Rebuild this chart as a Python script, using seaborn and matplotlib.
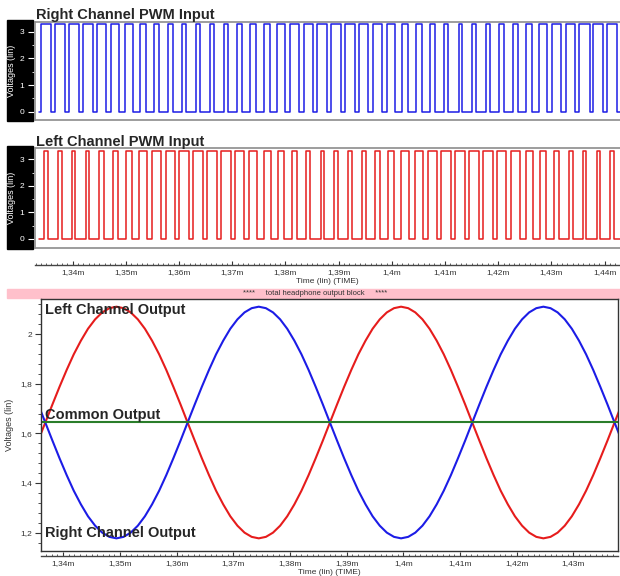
import matplotlib

matplotlib.use("Agg")
import matplotlib.pyplot as plt
import numpy as np
import seaborn as sns
from matplotlib.patches import Rectangle
from matplotlib.ticker import AutoMinorLocator, FuncFormatter, MultipleLocator

W, H = 620, 576

# PWM inputs: centre of each carrier period (ms) and duty cycle read per period
pwm_centres = [
    1.33501, 1.33760, 1.34020, 1.34279, 1.34539, 1.34798, 1.35058, 1.35317,
    1.35577, 1.35836, 1.36096, 1.36355, 1.36615, 1.36874, 1.37134, 1.37393,
    1.37653, 1.37912, 1.38172, 1.38431, 1.38691, 1.38950, 1.39210, 1.39469,
    1.39729, 1.39988, 1.40248, 1.40507, 1.40767, 1.41026, 1.41286, 1.41545,
    1.41805, 1.42064, 1.42324, 1.42583, 1.42843, 1.43102, 1.43362, 1.43621,
    1.43881, 1.44140,
]
right_duty = [
    0.73, 0.76, 0.76, 0.73, 0.68, 0.62, 0.54, 0.45, 0.37, 0.31, 0.26, 0.24,
    0.25, 0.28, 0.34, 0.41, 0.49, 0.58, 0.65, 0.71, 0.75, 0.76, 0.75, 0.70,
    0.64, 0.57, 0.48, 0.40, 0.33, 0.28, 0.24, 0.24, 0.27, 0.32, 0.39, 0.47,
    0.56, 0.64, 0.70, 0.75, 0.76, 0.74,
]
left_duty = [
    0.27, 0.24, 0.24, 0.27, 0.32, 0.38, 0.46, 0.55, 0.63, 0.69, 0.74, 0.76,
    0.75, 0.72, 0.66, 0.59, 0.51, 0.42, 0.35, 0.29, 0.25, 0.24, 0.25, 0.30,
    0.36, 0.43, 0.52, 0.60, 0.67, 0.72, 0.76, 0.76, 0.73, 0.68, 0.61, 0.53,
    0.44, 0.36, 0.30, 0.25, 0.24, 0.26,
]
pwm_high = 3.3
pwm_start = 1.3336

# headphone outputs (ms, V)
out_t = [
    1.33560, 1.33685, 1.33811, 1.33936, 1.34062, 1.34187, 1.34313, 1.34438,
    1.34564, 1.34689, 1.34815, 1.34940, 1.35066, 1.35191, 1.35317, 1.35442,
    1.35568, 1.35693, 1.35819, 1.35944, 1.36070, 1.36195, 1.36321, 1.36446,
    1.36572, 1.36697, 1.36823, 1.36948, 1.37074, 1.37199, 1.37325, 1.37450,
    1.37576, 1.37701, 1.37827, 1.37952, 1.38078, 1.38203, 1.38329, 1.38454,
    1.38580, 1.38705, 1.38831, 1.38956, 1.39082, 1.39207, 1.39333, 1.39458,
    1.39584, 1.39709, 1.39835, 1.39960, 1.40086, 1.40211, 1.40337, 1.40462,
    1.40588, 1.40713, 1.40839, 1.40964, 1.41090, 1.41215, 1.41341, 1.41466,
    1.41592, 1.41717, 1.41843, 1.41968, 1.42094, 1.42219, 1.42345, 1.42470,
    1.42596, 1.42721, 1.42847, 1.42972, 1.43098, 1.43223, 1.43349, 1.43474,
    1.43600, 1.43725, 1.43851,
]
left_out = [
    1.571, 1.644, 1.717, 1.788, 1.856, 1.919, 1.974, 2.022, 2.060, 2.088,
    2.105, 2.111, 2.105, 2.088, 2.060, 2.022, 1.974, 1.919, 1.856, 1.788,
    1.717, 1.644, 1.571, 1.500, 1.432, 1.369, 1.314, 1.266, 1.228, 1.200,
    1.183, 1.177, 1.183, 1.200, 1.228, 1.266, 1.314, 1.369, 1.432, 1.500,
    1.571, 1.644, 1.717, 1.788, 1.856, 1.919, 1.974, 2.022, 2.060, 2.088,
    2.105, 2.111, 2.105, 2.088, 2.060, 2.022, 1.974, 1.919, 1.856, 1.788,
    1.717, 1.644, 1.571, 1.500, 1.432, 1.369, 1.314, 1.266, 1.228, 1.200,
    1.183, 1.177, 1.183, 1.200, 1.228, 1.266, 1.314, 1.369, 1.432, 1.500,
    1.571, 1.644, 1.717,
]
right_out = [
    1.717, 1.644, 1.571, 1.500, 1.432, 1.369, 1.314, 1.266, 1.228, 1.200,
    1.183, 1.177, 1.183, 1.200, 1.228, 1.266, 1.314, 1.369, 1.432, 1.500,
    1.571, 1.644, 1.717, 1.788, 1.856, 1.919, 1.974, 2.022, 2.060, 2.088,
    2.105, 2.111, 2.105, 2.088, 2.060, 2.022, 1.974, 1.919, 1.856, 1.788,
    1.717, 1.644, 1.571, 1.500, 1.432, 1.369, 1.314, 1.266, 1.228, 1.200,
    1.183, 1.177, 1.183, 1.200, 1.228, 1.266, 1.314, 1.369, 1.432, 1.500,
    1.571, 1.644, 1.717, 1.788, 1.856, 1.919, 1.974, 2.022, 2.060, 2.088,
    2.105, 2.111, 2.105, 2.088, 2.060, 2.022, 1.974, 1.919, 1.856, 1.788,
    1.717, 1.644, 1.571,
]
common_t = [1.3355, 1.4400]
common_out = [1.648, 1.648]

TOP_XLIM = (1.3329, 1.4429)
BOT_XLIM = (1.33604, 1.43786)

BLUE = "#1c1ce6"
RED = "#e61c1c"
GREEN = "#2a7d2a"

sns.set_theme(style="white")
plt.rcParams["font.family"] = ["Liberation Sans", "DejaVu Sans"]

fig = plt.figure(figsize=(W / 100, H / 100), dpi=100)
fig.patch.set_facecolor("white")


def px_axes(left, top, right, bottom):
    return fig.add_axes([left / W, 1 - bottom / H, (right - left) / W, (bottom - top) / H])


def ms_label(v, pos):
    return f"{v:.2f}".rstrip("0").replace(".", ",") + "m"


def volt_label(v, pos):
    return f"{v:.1f}".rstrip("0").rstrip(".").replace(".", ",")


def pwm_trace(duty, t_end):
    period = np.diff(pwm_centres).mean()
    xs, ys = [pwm_start], [0.0]
    for c, d in zip(pwm_centres, duty):
        rise, fall = c - d * period / 2, c + d * period / 2
        xs += [rise, rise, fall, fall]
        ys += [0.0, pwm_high, pwm_high, 0.0]
    xs.append(t_end)
    ys.append(0.0)
    return xs, ys


def pwm_panel(top, bottom, duty, color, title, ylim):
    fig.patches.append(Rectangle((7 / W, 1 - (bottom + 1) / H), 26 / W, (bottom - top + 3) / H,
                                 transform=fig.transFigure, color="black", zorder=-1))
    ax = px_axes(35, top, 620, bottom)
    xs, ys = pwm_trace(duty, TOP_XLIM[1])
    sns.lineplot(x=xs, y=ys, estimator=None, sort=False, color=color, lw=1.1, ax=ax)
    ax.set_xlim(TOP_XLIM)
    ax.set_ylim(ylim)
    ax.set_xticks([])
    ax.yaxis.set_major_locator(MultipleLocator(1))
    ax.yaxis.set_minor_locator(MultipleLocator(0.5))
    ax.tick_params(axis="y", which="major", colors="white", direction="out", length=5,
                   width=0.8, labelsize=6, pad=3, left=True)
    ax.tick_params(axis="y", which="minor", colors="white", direction="out", length=2.5,
                   width=0.6, left=True)
    ax.set_ylabel("Voltages (lin)", color="white", fontsize=6.5)
    ax.yaxis.set_label_coords((16 - 35) / 585, 0.5)
    for side in ("left", "top", "bottom"):
        ax.spines[side].set_color("#8c8c8c")
        ax.spines[side].set_linewidth(1.2)
    ax.spines["right"].set_visible(False)
    fig.text(36 / W, 1 - (top - 2.5) / H, title, fontsize=10.5, fontweight="bold", va="baseline")
    return ax


def time_ruler(y, left, right, xlim):
    rax = fig.add_axes([left / W, 1 - y / H, (right - left) / W, 0.001])
    rax.patch.set_visible(False)
    rax.set_xlim(xlim)
    rax.set_yticks([])
    for side in ("left", "right", "top"):
        rax.spines[side].set_visible(False)
    rax.spines["bottom"].set_color("#444444")
    rax.spines["bottom"].set_linewidth(1.0)
    rax.xaxis.set_major_locator(MultipleLocator(0.01))
    rax.xaxis.set_minor_locator(MultipleLocator(0.001))
    rax.xaxis.set_major_formatter(FuncFormatter(ms_label))
    rax.tick_params(axis="x", which="major", direction="in", length=3, width=0.8,
                    labelsize=6, pad=3, colors="#333333", bottom=True)
    rax.tick_params(axis="x", which="minor", direction="in", length=1.5, width=0.6,
                    colors="#444444", bottom=True)
    rax.set_xlabel("Time (lin) (TIME)", fontsize=6, labelpad=1, color="#333333")
    return rax


pwm_panel(22, 120, right_duty, BLUE, "Right Channel PWM Input", (-0.31, 3.37))
pwm_panel(148, 248, left_duty, RED, "Left Channel PWM Input", (-0.34, 3.43))
time_ruler(265, 35, 620, TOP_XLIM)

# separator bar
fig.patches.append(Rectangle((7 / W, 1 - 298 / H), 613 / W, 9 / H, transform=fig.transFigure,
                             color="#ffc0cb", zorder=-1))
fig.text(315 / W, 1 - 293.5 / H, "****     total headphone output block     ****",
         fontsize=5.5, color="#333333", ha="center", va="center")

# output panel
ax = px_axes(40.7, 299, 618, 551)
sns.lineplot(x=out_t, y=left_out, color=RED, lw=1.5, ax=ax)
sns.lineplot(x=out_t, y=right_out, color=BLUE, lw=1.5, ax=ax)
sns.lineplot(x=common_t, y=common_out, color=GREEN, lw=1.5, ax=ax)
ax.set_xlim(BOT_XLIM)
ax.set_ylim(1.126, 2.142)
ax.set_xticks([])
ax.yaxis.set_major_locator(MultipleLocator(0.2))
ax.yaxis.set_minor_locator(AutoMinorLocator(5))
ax.yaxis.set_major_formatter(FuncFormatter(volt_label))
ax.tick_params(axis="y", which="major", direction="out", length=4, width=0.8,
               labelsize=6, pad=2, colors="#333333", left=True)
ax.tick_params(axis="y", which="minor", direction="out", length=2, width=0.6,
               colors="#333333", left=True)
ax.set_ylabel("Voltages (lin)", fontsize=6.5, color="#333333")
ax.yaxis.set_label_coords((14 - 40.7) / (618 - 40.7), 0.5)
for side in ax.spines:
    ax.spines[side].set_color("#333333")
    ax.spines[side].set_linewidth(1.0)

for text, base in (("Left Channel Output", 314),
                   ("Common Output", 419),
                   ("Right Channel Output", 537.5)):
    fig.text(45 / W, 1 - base / H, text, fontsize=10.5, fontweight="bold",
             va="baseline", zorder=5)

time_ruler(556, 40.7, 618, BOT_XLIM)

fig.savefig("out.png", dpi=100)
